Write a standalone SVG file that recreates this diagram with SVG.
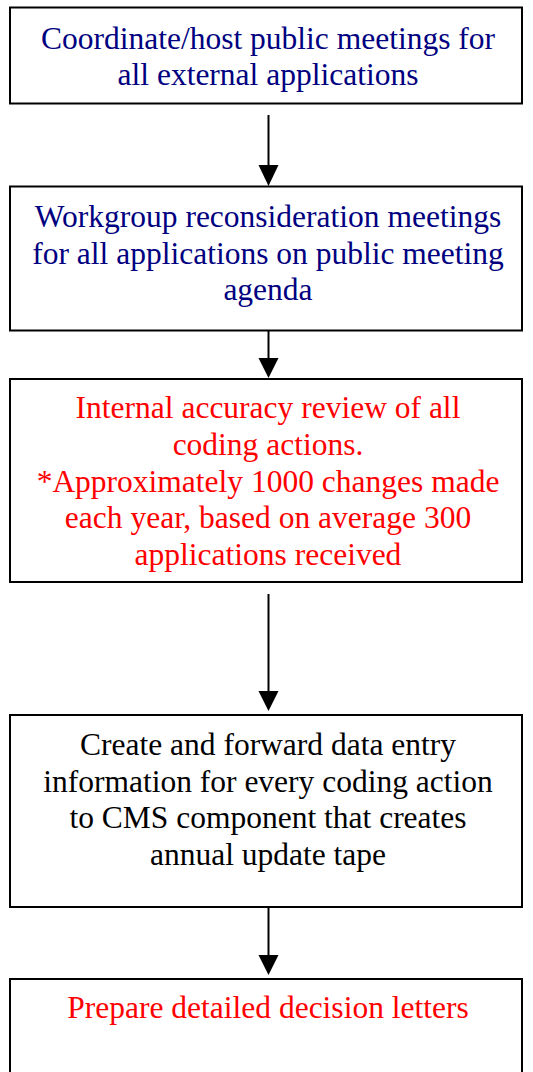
<svg xmlns="http://www.w3.org/2000/svg" width="533" height="1072" viewBox="0 0 533 1072">
<defs>
<style>
.box{fill:#fff;stroke:#000;stroke-width:2}
text{font-family:'Liberation Serif','Times New Roman',serif;font-size:31.5px;text-anchor:middle}
.blue{fill:#000080}
.red{fill:#ff0000}
.black{fill:#000}
.conn{stroke:#000;stroke-width:2;fill:none}
.head{fill:#000}
</style>
</defs>
<rect width="533" height="1072" fill="#fff"/>
<g id="connectors">
<line class="conn" x1="268.5" y1="115" x2="268.5" y2="165"/>
<path class="head" d="M258.5,165 L278.5,165 L268.5,186 Z"/>
<line class="conn" x1="268.5" y1="330" x2="268.5" y2="358"/>
<path class="head" d="M258.5,358 L278.5,358 L268.5,378 Z"/>
<line class="conn" x1="268.5" y1="594" x2="268.5" y2="691"/>
<path class="head" d="M258.5,691 L278.5,691 L268.5,711 Z"/>
<line class="conn" x1="268.5" y1="907" x2="268.5" y2="955"/>
<path class="head" d="M258.5,955 L278.5,955 L268.5,975 Z"/>
</g>
<g id="node1">
<rect class="box" x="10" y="7.5" width="512" height="96"/>
<text class="blue"><tspan x="268" y="49">Coordinate/host public meetings for</tspan><tspan x="268" y="85">all external applications</tspan></text>
</g>
<g id="node2">
<rect class="box" x="10" y="186.5" width="512" height="144"/>
<text class="blue"><tspan x="268" y="227">Workgroup reconsideration meetings</tspan><tspan x="268" y="264">for all applications on public meeting</tspan><tspan x="268" y="300">agenda</tspan></text>
</g>
<g id="node3">
<rect class="box" x="10" y="379" width="512" height="203"/>
<text class="red"><tspan x="268" y="418">Internal accuracy review of all</tspan><tspan x="268" y="455">coding actions.</tspan><tspan x="268" y="492">*Approximately 1000 changes made</tspan><tspan x="268" y="528">each year, based on average 300</tspan><tspan x="268" y="565">applications received</tspan></text>
</g>
<g id="node4">
<rect class="box" x="10" y="715" width="512" height="192"/>
<text class="black"><tspan x="268" y="755">Create and forward data entry</tspan><tspan x="268" y="792">information for every coding action</tspan><tspan x="268" y="828">to CMS component that creates</tspan><tspan x="268" y="865">annual update tape</tspan></text>
</g>
<g id="node5">
<rect class="box" x="10" y="979" width="512" height="120"/>
<text class="red"><tspan x="268" y="1018">Prepare detailed decision letters</tspan></text>
</g>
</svg>
